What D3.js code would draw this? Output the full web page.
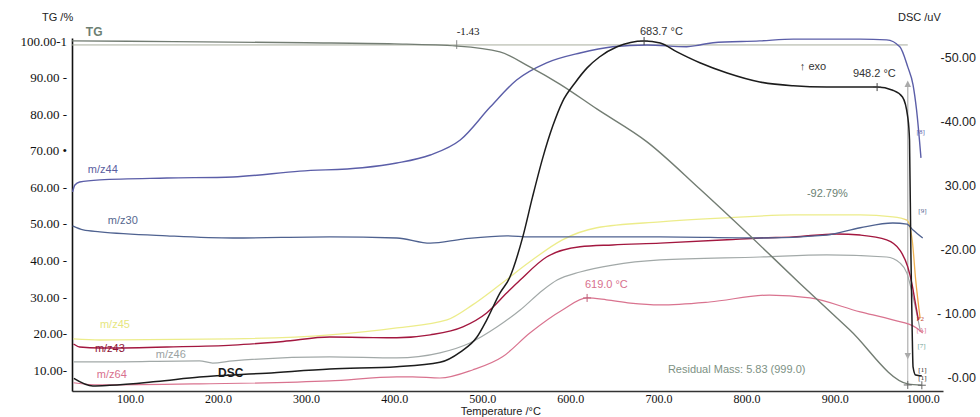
<!DOCTYPE html>
<html>
<head>
<meta charset="utf-8">
<script src="https://cdn.jsdelivr.net/npm/d3@7"></script>
<style>
body { margin:0; background:#fff; }
svg { display:block; }
.serif { font-family:"Liberation Serif","DejaVu Serif",serif; }
.sans { font-family:"Liberation Sans",Arial,sans-serif; }
</style>
</head>
<body>
<div id="chart-area"></div>
<script>
// data: [temperature °C, value]
var tgData = [[34.3,100.0],[150,99.8],[300,99.5],[400,99.2],[471,98.6],[520,97.0],[554,92.9],[588,88.2],
	[630,81.4],[687,72.4],[747,59.5],[804,46.7],[860,33.8],[917,21.0],[983,6.2],[999,5.83]];
// DSC in uV (right axis)
var dscData = [[36.4,-0.2],[58,-1.4],[77,-1.3],[130,-0.7],[179,0],[255,0.6],[327,1.25],[403,1.6],[452,2.3],
	[475,3.9],[494,6.25],[505,8.9],[520,13.1],[531,15.5],[546,21.9],[557,28.1],[569,34.4],[580,39.2],[591,43.0],
	[605,45.9],[619,48.3],[633,50.0],[653,51.6],[683.7,52.5],[702,52.2],[721,50.8],[747,49.1],[778,47.5],
	[815,46.1],[853,45.5],[891,45.3],[948.2,45.3],[966,44.8],[977,43.75],[983,40.6],[985,37],[986.5,19.8],
	[988,7.3],[989,1.6],[992,0.3],[999,0.15]];
// ion currents, drawn against the left scale
var mz44 = [[35,58.7],[37.6,60.6],[43,61.4],[66,62],[142,62.5],[217,62.8],[293,64.4],[364,65.3],[403,66.6],
	[441,68.8],[475,72.9],[509,81.9],[539,89.3],[573,94],[611,96.7],[648,98.4],[687,98.9],[732,98.4],[747,98.9],
	[762,99.5],[815,100],[853,100.5],[929,100.5],[959,100.3],[974,98.4],[983,92.9],[989,88],[993,81.1],[998,68]];
var mz30 = [[35,49.4],[47,48.3],[66,47.8],[142,46.7],[217,46.1],[327,46.4],[403,46.1],[441,44.7],[478,45.8],
	[528,46.7],[554,46.4],[702,46.4],[815,46.1],[891,46.9],[929,48.9],[966,50.2],[982,49.9],[989,48.3],[1000,46.1]];
var mz45 = [[36,18.5],[66,18.2],[217,18.5],[327,19.6],[403,21.5],[460,23.7],[489,27.8],[520,33.3],[554,39.6],
	[591,45.6],[630,48.9],[702,50.5],[778,51.6],[853,52.4],[929,52.4],[966,51.9],[982,51],[988,45.6],[992,34.6],[997,24.2]];
var mz43 = [[36,17.1],[43,16.3],[66,16],[142,16.3],[217,16.8],[274,17.8],[327,19.0],[364,18.9],[403,18.8],
	[441,19.6],[478,21.8],[505,25.6],[528,31.1],[543,34.6],[573,40.9],[611,43.7],[648,44.2],[702,44.7],
	[778,45.6],[815,46.1],[853,46.4],[902,47.2],[929,46.9],[959,45.6],[974,42.8],[983,38.2],[988,33.3],[991,29.2],[995,23.7]];
var mz46 = [[36,12.2],[66,12.2],[179,12.5],[194,11.9],[217,12.5],[327,13.6],[403,13.3],[452,14.7],[486,17.4],
	[517,21.8],[543,26.4],[569,31.9],[585,34.6],[611,36.8],[648,38.7],[702,40.1],[815,40.9],[891,41.5],
	[959,40.9],[974,39.3],[982,36.5],[989,30],[997,21]];
var mz64 = [[36,6.5],[66,5.9],[179,6.2],[327,7.0],[403,8.1],[421,8.1],[452,7.8],[489,10],[523,13.6],[554,20.1],
	[591,26.4],[619,29.7],[641,29.2],[668,28.3],[702,27.8],[758,28.6],[826,30.5],[872,29.7],[929,25.9],
	[966,23.7],[993,21.5],[1000,20.1]];

// ticks
var xTicks = [100,200,300,400,500,600,700,800,900,1000];
var xTickLabels = ["100.0","200.0","300.0","400.0","500.0","600.0","700.0","800.0","900.0","1000.0"];
var tgTicks = [100,90,80,70,60,50,40,30,20,10];
var tgTickLabels = ["100.00-1","90.00 -","80.00 -","70.00 •","60.00 -","50.00 -","40.00 -","30.00 -","20.00-","10.00-"];
var dscTicks = [50,40,30,20,10,0];
var dscTickLabels = ["-50.00","-40.00","30.00","-20.00","- 10.00","-0.00"];

var width = 980, height = 417;

var svg = d3.select("#chart-area")
	.append("svg")
		.attr("width", width)
		.attr("height", height);

//scales
var x = d3.scaleLinear().domain([34.3, 1023]).range([72, 943]);
var y = d3.scaleLinear().domain([100.8, 4.25]).range([38, 391]); // TG %
var y2 = d3.scaleLinear().domain([0, 50]).range([377, 57]); // DSC uV

//axes
var xAxis = svg.append("g")
	.attr("transform", "translate(0,391)")
	.call(d3.axisBottom(x).tickValues(xTicks).tickSize(0).tickPadding(3)
		.tickFormat((d,i) => xTickLabels[i]));
xAxis.select(".domain").attr("stroke", "#333").attr("stroke-width", 1.3);
xAxis.selectAll("text").attr("font-size", 12).attr("fill", "#111")
	.attr("font-family", "Liberation Serif, DejaVu Serif, serif");

var yAxis = svg.append("g")
	.attr("transform", "translate(72,0)")
	.call(d3.axisLeft(y).tickValues(tgTicks).tickSize(0).tickPadding(5)
		.tickFormat((d,i) => tgTickLabels[i]));
yAxis.select(".domain").attr("stroke", "#111").attr("stroke-width", 1.6);
yAxis.selectAll("text").attr("font-size", 13).attr("fill", "#111")
	.attr("font-family", "Liberation Serif, DejaVu Serif, serif");

var y2Axis = svg.append("g")
	.attr("transform", "translate(976,0)")
	.call(d3.axisLeft(y2).tickValues(dscTicks).tickSize(0).tickPadding(0)
		.tickFormat((d,i) => dscTickLabels[i]));
y2Axis.select(".domain").remove();
y2Axis.selectAll("text").attr("font-size", 12.5).attr("fill", "#222")
	.attr("font-family", "Liberation Sans, Arial, sans-serif");

//axis titles
svg.append("text").attr("class", "sans").attr("x", 42).attr("y", 21)
	.attr("font-size", 11).attr("fill", "#222").text("TG /%");
svg.append("text").attr("class", "sans").attr("x", 898).attr("y", 21)
	.attr("font-size", 11).attr("fill", "#222").text("DSC /uV");
svg.append("text").attr("class", "sans").attr("x", x(521)).attr("y", 414.5)
	.attr("text-anchor", "middle").attr("font-size", 11).attr("fill", "#222").text("Temperature /°C");

//reference lines for the TG step
svg.append("line")
	.attr("x1", x(34.3)).attr("x2", x(983))
	.attr("y1", y(98.9)).attr("y2", y(98.9))
	.attr("stroke", "#a8ad9e").attr("stroke-width", 1);
svg.append("line")
	.attr("x1", x(471)).attr("x2", x(471))
	.attr("y1", y(100.2)).attr("y2", y(97.8))
	.attr("stroke", "#888").attr("stroke-width", 1);

// vertical step bar with arrows
svg.append("defs").append("marker")
	.attr("id", "arr").attr("viewBox", "0 0 10 10").attr("refX", 5).attr("refY", 5)
	.attr("markerWidth", 5).attr("markerHeight", 6).attr("orient", "auto-start-reverse")
	.append("path").attr("d", "M0,0L10,5L0,10z").attr("fill", "#aaa");
svg.append("line")
	.attr("x1", x(983)).attr("x2", x(983))
	.attr("y1", y(88.3)).attr("y2", y(13.8))
	.attr("stroke", "#b5b5b5").attr("stroke-width", 1.3)
	.attr("marker-start", "url(#arr)").attr("marker-end", "url(#arr)");
svg.append("line")
	.attr("x1", x(983)).attr("x2", x(983))
	.attr("y1", y(13.8)).attr("y2", y(5.9))
	.attr("stroke", "#b5b5b5").attr("stroke-width", 1);

//line generators
var lineL = d3.line().curve(d3.curveMonotoneX)
	.x(d => x(d[0])).y(d => y(d[1]));
var lineR = d3.line().curve(d3.curveMonotoneX)
	.x(d => x(d[0])).y(d => y2(d[1]));

// yellow m/z45 turns orange on the final drop
var grad = svg.select("defs").append("linearGradient")
	.attr("id", "g45").attr("gradientUnits", "userSpaceOnUse")
	.attr("x1", x(975)).attr("x2", x(995)).attr("y1", 0).attr("y2", 0);
grad.append("stop").attr("offset", 0).attr("stop-color", "#ecec8a");
grad.append("stop").attr("offset", 1).attr("stop-color", "#f0a040");

var series = [
	{data: mz64, color: "#d9738f", w: 1.2},
	{data: mz46, color: "#a2a9a8", w: 1.2},
	{data: mz45, color: "url(#g45)", w: 1.3},
	{data: mz43, color: "#a3173f", w: 1.4},
	{data: mz30, color: "#4f6290", w: 1.3},
	{data: mz44, color: "#5b5ea8", w: 1.4},
	{data: tgData, color: "#737d73", w: 1.4}
];
series.forEach(s => {
	svg.append("path")
		.attr("fill", "none")
		.attr("stroke", s.color)
		.attr("stroke-width", s.w)
		.attr("stroke-linejoin", "round")
		.attr("d", lineL(s.data));
});
svg.append("path")
	.attr("fill", "none")
	.attr("stroke", "#1c1c1c")
	.attr("stroke-width", 1.5)
	.attr("d", lineR(dscData));

//cross markers
function cross(cx, cy, col) {
	svg.append("path")
		.attr("d", "M" + (cx-4) + "," + cy + "h8M" + cx + "," + (cy-4) + "v8")
		.attr("stroke", col).attr("stroke-width", 1);
}
cross(x(683.7), y2(52.5), "#444");
cross(x(948.2), y2(45.3), "#444");
cross(x(619), y(29.7), "#c0607a");
cross(x(983), y(5.9), "#666");
cross(x(999), y(5.83), "#666");

//curve labels, in data coordinates
var labels = [
	{t:"TG", T:50, v:101.4, c:"#6d7f73", s:12, b:true},
	{t:"m/z44", T:52.3, v:63.9, c:"#5a5ea0", s:11},
	{t:"m/z30", T:75, v:49.9, c:"#56688f", s:11},
	{t:"m/z45", T:66, v:21.5, c:"#e6e67e", s:11},
	{t:"m/z43", T:60.3, v:14.9, c:"#8c1436", s:11},
	{t:"m/z46", T:129.5, v:13.3, c:"#9aa2a2", s:11},
	{t:"m/z64", T:62.5, v:7.8, c:"#d8708e", s:11},
	{t:"DSC", T:200, v:8.1, c:"#1a1a1a", s:12, b:true},
	{t:"683.7 °C", T:679, v:101.7, c:"#333", s:11},
	{t:"↑ exo", T:860.5, v:92, c:"#333", s:11},
	{t:"948.2 °C", T:920.7, v:90.2, c:"#333", s:11},
	{t:"-92.79%", T:868.5, v:57.3, c:"#6b7f73", s:11},
	{t:"619.0 °C", T:616.5, v:32.4, c:"#d8708e", s:11},
	{t:"Residual Mass: 5.83 (999.0)", T:710.7, v:9.2, c:"#7d9184", s:11}
];
svg.selectAll(".lab").data(labels).enter().append("text")
	.attr("class", "lab sans")
	.attr("x", d => x(d.T)).attr("y", d => y(d.v))
	.attr("font-size", d => d.s)
	.attr("font-weight", d => d.b ? "bold" : null)
	.attr("fill", d => d.c)
	.text(d => d.t);
svg.append("text").attr("class", "serif")
	.attr("x", x(471)).attr("y", y(101.5))
	.attr("font-size", 11).attr("fill", "#222").text("-1.43");

// small end tags
var tags = [
	{t:"[8]", T:993, v:74.5, c:"#5b5ea8"},
	{t:"[9]", T:995, v:52.8, c:"#4f6290"},
	{t:"P2", T:993, v:23.5, c:"#c0402a"},
	{t:"[A]", T:993, v:20.5, c:"#d8708e"},
	{t:"[7]", T:994, v:16, c:"#6aa090"},
	{t:"[1]", T:995, v:9.5, c:"#222"},
	{t:"[1]", T:995, v:7.3, c:"#222"}
];
svg.selectAll(".tag").data(tags).enter().append("text")
	.attr("class", "tag serif")
	.attr("x", d => x(d.T)).attr("y", d => y(d.v))
	.attr("font-size", 7)
	.attr("fill", d => d.c)
	.text(d => d.t);
</script>
</body>
</html>
